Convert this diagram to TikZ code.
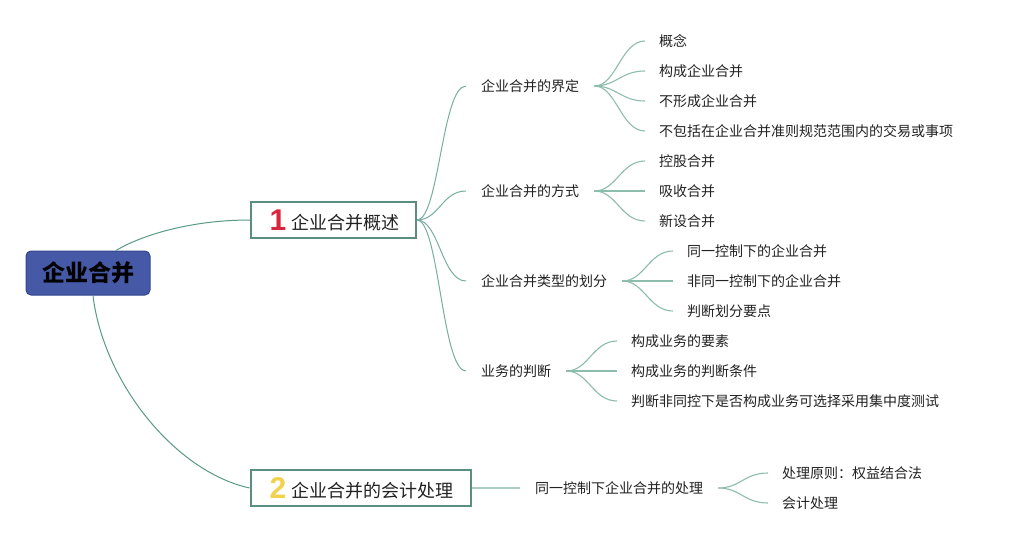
\documentclass[tikz,border=0pt]{standalone}
\usepackage{fontspec}
\newfontfamily\cjk{Noto Sans CJK SC}
\newfontfamily\numf{Liberation Sans}
\usetikzlibrary{calc}
\definecolor{rootfill}{HTML}{4559A6}
\definecolor{rootborder}{HTML}{33478E}
\definecolor{boxborder}{HTML}{5B8D80}
\definecolor{lineroot}{HTML}{5A9985}
\definecolor{linemid}{HTML}{78AE9E}
\definecolor{lineleaf}{HTML}{8DBDAD}
\definecolor{linestraight}{HTML}{A8CFC2}
\definecolor{txt}{HTML}{222222}
\definecolor{numred}{HTML}{D7263D}
\definecolor{numyellow}{HTML}{F2D24B}
\begin{document}
\begin{tikzpicture}[x=1pt,y=-1pt,
  rootbox/.style={draw=rootborder, line width=1pt, fill=rootfill, rounded corners=5pt,
    minimum width=124pt, minimum height=44pt, inner sep=0pt,
    font=\cjk\bfseries\fontsize{23}{26}\selectfont, text=black},
  mainbox/.style={draw=boxborder, line width=2pt, fill=white, minimum height=36pt,
    inner sep=0pt, font=\cjk\fontsize{18}{22}\selectfont, text=txt},
  subtopic/.style={anchor=west, inner xsep=15pt, inner ysep=2pt,
    font=\cjk\fontsize{14}{16}\selectfont, text=txt},
  leaf/.style={anchor=west, inner xsep=14pt, inner ysep=2pt,
    font=\cjk\fontsize{14}{16}\selectfont, text=txt},
  rootline/.style={draw=lineroot, line width=1pt},
  midline/.style={draw=linemid, line width=1pt},
  leafline/.style={draw=lineleaf, line width=1.1pt},
  straightline/.style={draw=linestraight, line width=1.8pt}
]
\useasboundingbox (0,0) rectangle (1013,543);
\fill[white] (0,0) rectangle (1013,543);

% root
\node[rootbox] (root) at (88,273) {企业合并};

% level 1
\node[mainbox, minimum width=165pt] (n1) at (333.5,220)
  {\makebox[20pt]{\raisebox{-1pt}{\numf\bfseries\fontsize{30}{30}\selectfont\color{numred}1}}\hspace{3pt}企业合并概述};
\node[mainbox, minimum width=220pt] (n2) at (360.5,488)
  {\makebox[20pt]{\raisebox{-1pt}{\numf\bfseries\fontsize{30}{30}\selectfont\color{numyellow}2}}\hspace{3pt}企业合并的会计处理};

\draw[rootline] ([xshift=28pt]root.north) .. controls +(25,-15) and +(-60,0) .. (n1.west);
\draw[rootline] ([xshift=5pt]root.south) .. controls +(10,85) and +(-76,-17) .. (n2.west);

% level 2
\node[subtopic] (s1) at (466,86) {企业合并的界定};
\node[subtopic] (s2) at (466,191) {企业合并的方式};
\node[subtopic] (s3) at (466,281) {企业合并类型的划分};
\node[subtopic] (s4) at (466,371) {业务的判断};
\node[subtopic] (s5) at (520,488) {同一控制下企业合并的处理};

\foreach \s in {s1,s2,s3,s4}
  \draw[midline] (n1.east) .. controls +(22,0) and +(-24,0) .. (\s.west);
\draw[straightline] (n2.east) -- (s5.west);

% leaves
\node[leaf] (a1) at (645,41) {概念};
\node[leaf] (a2) at (645,71) {构成企业合并};
\node[leaf] (a3) at (645,101) {不形成企业合并};
\node[leaf] (a4) at (645,131) {不包括在企业合并准则规范范围内的交易或事项};

\node[leaf] (b1) at (645,161) {控股合并};
\node[leaf] (b2) at (645,191) {吸收合并};
\node[leaf] (b3) at (645,221) {新设合并};

\node[leaf] (c1) at (673,251) {同一控制下的企业合并};
\node[leaf] (c2) at (673,281) {非同一控制下的企业合并};
\node[leaf] (c3) at (673,311) {判断划分要点};

\node[leaf] (d1) at (617,341) {构成业务的要素};
\node[leaf] (d2) at (617,371) {构成业务的判断条件};
\node[leaf] (d3) at (617,401) {判断非同控下是否构成业务可选择采用集中度测试};

\node[leaf] (e1) at (768,473) {处理原则：权益结合法};
\node[leaf] (e2) at (768,503) {会计处理};

\foreach \a in {a1,a2,a3,a4}
  \draw[leafline] (s1.east) .. controls +(22,0) and +(-24,0) .. (\a.west);
\foreach \a in {b1,b2,b3}
  \draw[leafline] (s2.east) .. controls +(22,0) and +(-24,0) .. (\a.west);
\foreach \a in {c1,c2,c3}
  \draw[leafline] (s3.east) .. controls +(22,0) and +(-24,0) .. (\a.west);
\foreach \a in {d1,d2,d3}
  \draw[leafline] (s4.east) .. controls +(22,0) and +(-24,0) .. (\a.west);
\foreach \a in {e1,e2}
  \draw[leafline] (s5.east) .. controls +(22,0) and +(-24,0) .. (\a.west);
\end{tikzpicture}
\end{document}
